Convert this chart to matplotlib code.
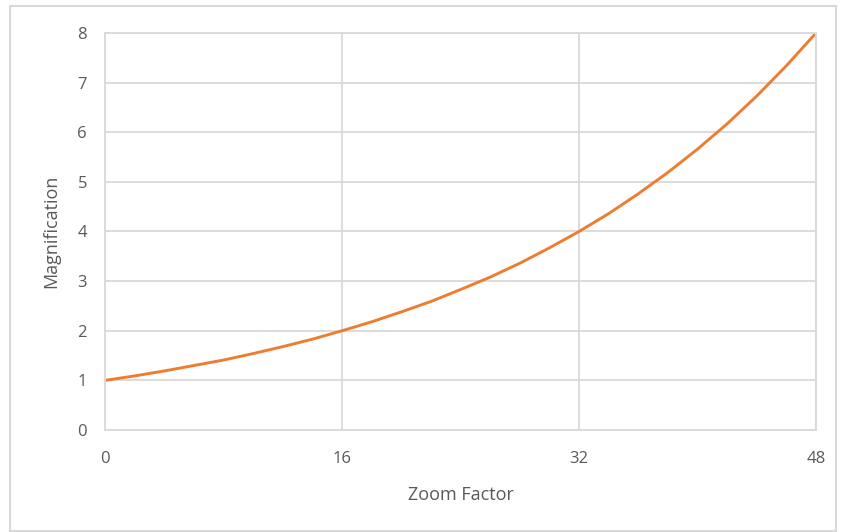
import matplotlib.pyplot as plt
from matplotlib.patches import Rectangle

# values
zoom = [0, 2, 4, 6, 8, 10, 12, 14, 16, 18, 20, 22, 24,
        26, 28, 30, 32, 34, 36, 38, 40, 42, 44, 46, 48]
magnification = [1.00, 1.09, 1.19, 1.30, 1.41, 1.54, 1.68, 1.83, 2.00,
                 2.18, 2.38, 2.59, 2.83, 3.08, 3.36, 3.67, 4.00,
                 4.36, 4.76, 5.19, 5.66, 6.17, 6.73, 7.34, 8.00]
x_ticks = [0, 16, 32, 48]
y_ticks = [0, 1, 2, 3, 4, 5, 6, 7, 8]

plt.rcParams['font.family'] = ['Open Sans', 'DejaVu Sans']
text_col = '#595959'
grid_col = '#d9d9d9'

fig = plt.figure(figsize=(8.41, 5.32), dpi=100)
ax = fig.add_axes([0.1249, 0.1917, 0.8454, 0.7463])

ax.plot(zoom, magnification, color='#ED7D31', linewidth=2.1, solid_capstyle='round')

ax.set_xlim(0, 48)
ax.set_ylim(0, 8)
ax.set_xticks(x_ticks)
ax.set_yticks(y_ticks)
ax.grid(True, color=grid_col, linewidth=1.3)
ax.set_axisbelow(True)
for s in ax.spines.values():
    s.set_color(grid_col)
    s.set_linewidth(1.3)
ax.tick_params(length=0, labelsize=12, colors=text_col, pad=15)
ax.tick_params(axis='y', pad=13)

ax.set_xlabel('Zoom Factor', fontsize=13, color=text_col, labelpad=14)
ax.set_ylabel('Magnification', fontsize=13, color=text_col, labelpad=12)

# light frame round the whole chart
fig.patches.append(Rectangle((10 / 841, 1 / 532), 826 / 841, 525 / 532,
                             transform=fig.transFigure, fill=False,
                             edgecolor='#d9d9d9', linewidth=1.5))

fig.savefig('out.png', dpi=100)
